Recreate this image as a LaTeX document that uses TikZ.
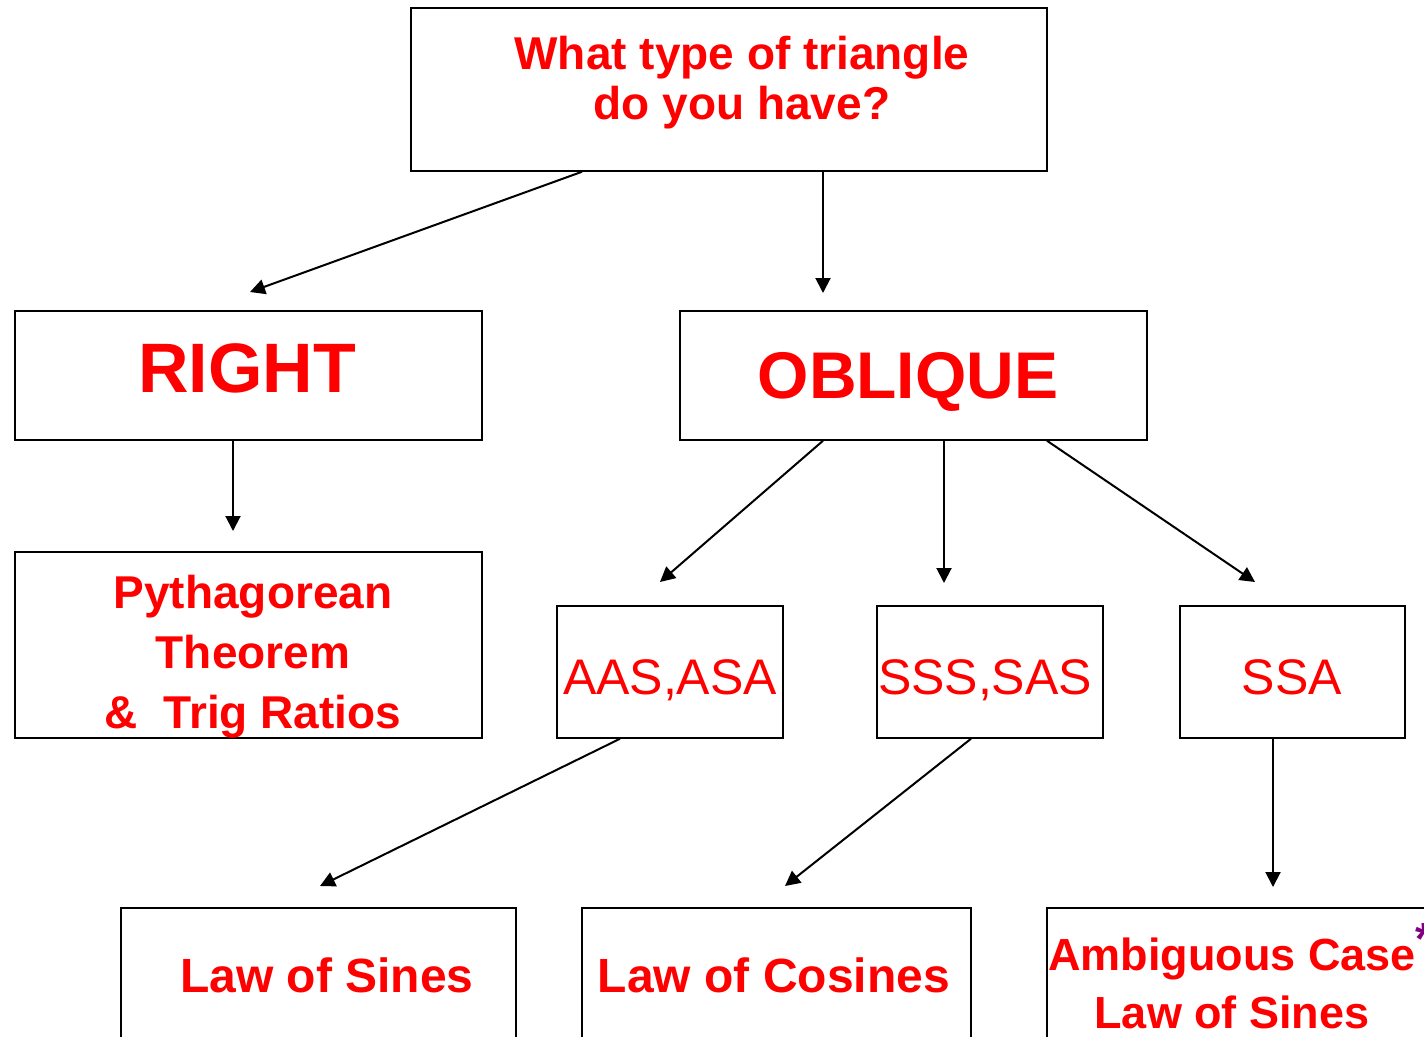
\documentclass[tikz,border=0pt]{standalone}
\usepackage{fontspec}
\setmainfont{Liberation Sans}
\usetikzlibrary{arrows.meta}
\definecolor{txtred}{RGB}{255,0,0}
\definecolor{starpurple}{RGB}{128,0,128}
\begin{document}
\begin{tikzpicture}[x=1pt,y=-1pt,
  box/.style={draw=black,line width=1.5pt,fill=white,inner sep=0pt},
  lbl/.style={text=txtred,align=center,inner sep=0pt},
  arr/.style={draw=black,line width=2pt,-{Triangle[length=15pt,width=15pt]}}]
\useasboundingbox (0,0) rectangle (1424,1036);
\fill[white] (0,0) rectangle (1424,1036);
\clip (0,0) rectangle (1424,1036);
% boxes
\node[box,minimum width=636pt,minimum height=163pt] (top) at (729,89.5) {};
\node[box,minimum width=467pt,minimum height=129pt] (right) at (248.5,375.5) {};
\node[box,minimum width=467pt,minimum height=129pt] (obl) at (913.5,375.5) {};
\node[box,minimum width=467pt,minimum height=186pt] (pyth) at (248.5,645) {};
\node[box,minimum width=226pt,minimum height=132pt] (aas) at (670,672) {};
\node[box,minimum width=226pt,minimum height=132pt] (sss) at (990,672) {};
\node[box,minimum width=225pt,minimum height=132pt] (ssa) at (1292.5,672) {};
\node[box,minimum width=395pt,minimum height=160pt] (los) at (318.5,988) {};
\node[box,minimum width=389pt,minimum height=160pt] (loc) at (776.5,988) {};
\node[box,minimum width=400pt,minimum height=160pt] (amb) at (1247,988) {};
% labels
\node[lbl,font=\bfseries\fontsize{46}{50}\selectfont] (ttop) at (742,83) {What type of triangle\\do you have?};
\node[lbl,font=\bfseries\fontsize{70}{80}\selectfont] (tright) at (247,368) {RIGHT};
\node[lbl,font=\bfseries\fontsize{66}{76}\selectfont] (tobl) at (908,382) {OBLIQUE};
\node[lbl,font=\bfseries\fontsize{46}{60}\selectfont] (tpyth) at (253,657) {Pythagorean\\Theorem\\\&\ \ Trig Ratios};
\node[lbl,font=\fontsize{50}{60}\selectfont] (taas) at (670,680) {AAS,ASA};
\node[lbl,font=\fontsize{50}{60}\selectfont] (tsss) at (985,680) {SSS,SAS};
\node[lbl,font=\fontsize{50}{60}\selectfont] (tssa) at (1292,677) {SSA};
\node[lbl,font=\bfseries\fontsize{48}{58}\selectfont] (tlos) at (327,975) {Law of Sines};
\node[lbl,font=\bfseries\fontsize{48}{58}\selectfont] (tloc) at (774,975) {Law of Cosines};
\node[lbl,font=\bfseries\fontsize{45}{58}\selectfont] (tamb) at (1232,976) {Ambiguous Case\rlap{\textcolor{starpurple}{\raisebox{0.35em}{*}}}\\Law of Sines};
% arrow end points
\coordinate (e1) at (250,292);
\coordinate (e2) at (823,293);
\coordinate (e3) at (233,531);
\coordinate (e4) at (660,582);
\coordinate (e5) at (944,583);
\coordinate (e6) at (1255,582);
\coordinate (e7) at (320,886);
\coordinate (e8) at (785,886);
\coordinate (e9) at (1273,887);
% connectors
\draw[arr] (582,0 |- top.south) -- (e1);
\draw[arr] (823,0 |- top.south) -- (e2);
\draw[arr] (233,0 |- right.south) -- (e3);
\draw[arr] (823,0 |- obl.south) -- (e4);
\draw[arr] (944,0 |- obl.south) -- (e5);
\draw[arr] (1047,0 |- obl.south) -- (e6);
\draw[arr] (620,0 |- aas.south) -- (e7);
\draw[arr] (971,0 |- sss.south) -- (e8);
\draw[arr] (1273,0 |- ssa.south) -- (e9);
\end{tikzpicture}
\end{document}
